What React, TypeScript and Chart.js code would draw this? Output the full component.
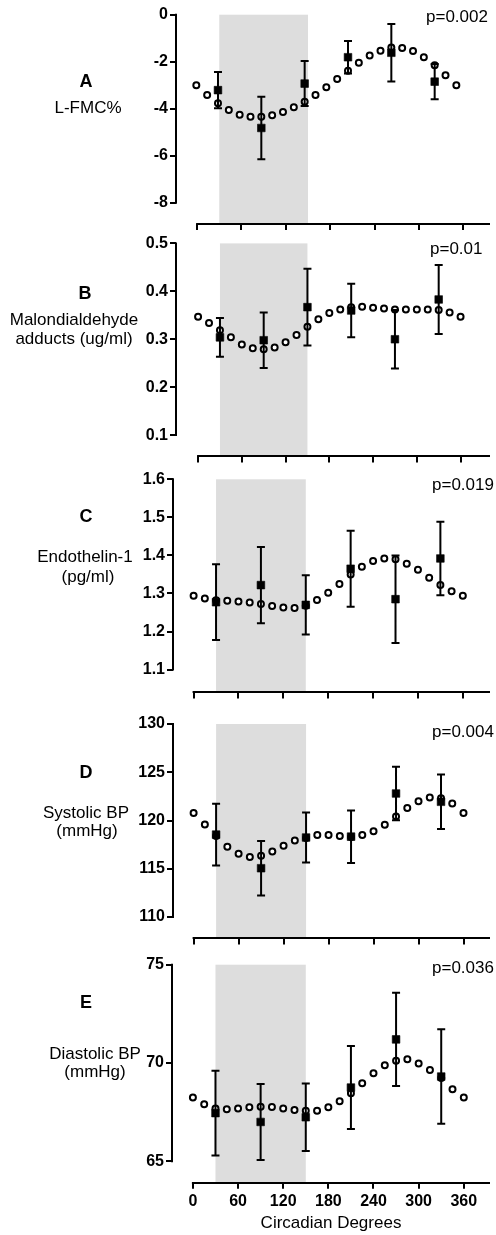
import React, { useEffect, useRef } from "react";
import { Chart, registerables } from "chart.js";

Chart.register(...registerables);

// ---------- data ----------
const degreesFit = [0, 15, 30, 45, 60, 75, 90, 105, 120, 135, 150, 165, 180, 195, 210, 225, 240, 255, 270, 285, 300, 315, 330, 345, 360];
const degreesObs = [30, 90, 150, 210, 270, 330];
const xTickValues = [0, 60, 120, 180, 240, 300, 360];
const shadeRange = [30, 150];

const fmcFit = [-3.0, -3.42, -3.77, -4.06, -4.26, -4.34, -4.34, -4.28, -4.14, -3.94, -3.7, -3.42, -3.09, -2.74, -2.38, -2.04, -1.74, -1.53, -1.4, -1.42, -1.54, -1.81, -2.15, -2.58, -3.0];
const fmcMean = [-3.21, -4.82, -2.93, -1.81, -1.62, -2.85];
const fmcSem = [0.77, 1.33, 0.96, 0.69, 1.22, 0.75];
const fmcTicks = [0, -2, -4, -6, -8];

const mdaFit = [0.347, 0.334, 0.319, 0.304, 0.289, 0.281, 0.279, 0.283, 0.294, 0.309, 0.326, 0.342, 0.355, 0.362, 0.367, 0.368, 0.366, 0.364, 0.362, 0.362, 0.362, 0.362, 0.361, 0.356, 0.347];
const mdaMean = [0.304, 0.298, 0.367, 0.36, 0.3, 0.383];
const mdaSem = [0.0405, 0.058, 0.08, 0.056, 0.061, 0.072];
const mdaTicks = [0.1, 0.2, 0.3, 0.4, 0.5];

const et1Fit = [1.294, 1.287, 1.282, 1.281, 1.279, 1.276, 1.272, 1.267, 1.263, 1.262, 1.268, 1.283, 1.302, 1.325, 1.35, 1.37, 1.385, 1.392, 1.39, 1.378, 1.362, 1.341, 1.322, 1.306, 1.294];
const et1Mean = [1.277, 1.322, 1.27, 1.365, 1.285, 1.392];
const et1Sem = [0.0995, 0.1, 0.078, 0.1, 0.115, 0.0965];
const et1Ticks = [1.1, 1.2, 1.3, 1.4, 1.5, 1.6];

const sbpFit = [120.79, 119.59, 118.4, 117.28, 116.56, 116.22, 116.36, 116.8, 117.38, 117.93, 118.2, 118.5, 118.5, 118.4, 118.3, 118.5, 118.9, 119.56, 120.41, 121.3, 122.0, 122.38, 122.32, 121.77, 120.79];
const sbpMean = [118.54, 115.06, 118.24, 118.33, 122.8, 121.94];
const sbpSem = [3.2, 2.83, 2.6, 2.72, 2.77, 2.83];
const sbpTicks = [110, 115, 120, 125, 130];

const dbpFit = [68.24, 67.9, 67.68, 67.65, 67.68, 67.75, 67.78, 67.76, 67.69, 67.61, 67.57, 67.57, 67.75, 68.05, 68.46, 68.97, 69.48, 69.88, 70.12, 70.19, 69.98, 69.64, 69.24, 68.66, 68.24];
const dbpMean = [67.45, 67.0, 67.24, 68.75, 71.2, 69.31];
const dbpSem = [2.16, 1.93, 1.72, 2.11, 2.37, 2.4];
const dbpTicks = [65, 70, 75];

const panelLetters = ["A", "B", "C", "D", "E"];
const panelLabels = [
  ["L-FMC%"],
  ["Malondialdehyde", "adducts (ug/ml)"],
  ["Endothelin-1", "(pg/ml)"],
  ["Systolic BP", "(mmHg)"],
  ["Diastolic BP", "(mmHg)"],
];
const pValues = ["p=0.002", "p=0.01", "p=0.019", "p=0.004", "p=0.036"];
const xAxisTitle = "Circadian Degrees";

// ---------- layout ----------
const W = 496;
const FONT = "'Liberation Sans', Arial, Helvetica, sans-serif";

type PanelGeom = {
  top: number; height: number; axisX: number; plotTop: number; xAxisY: number;
  yMin: number; yMax: number; data0: number; data360: number; axis0: number; axis360: number;
  letterPos: [number, number]; labelPos: [number, number][]; pPos: [number, number]; showX: boolean;
};

const geoms: PanelGeom[] = [
  { top: 0, height: 236, axisX: 176, plotTop: 14.7, xAxisY: 224, yMin: -8.906, yMax: 0, data0: 196.7, data360: 461.7, axis0: 197.5, axis360: 468.7,
    letterPos: [86, 81], labelPos: [[88, 108]], pPos: [426, 17], showX: false },
  { top: 228, height: 240, axisX: 176, plotTop: 243.4, xAxisY: 460.7, yMin: 0.0556, yMax: 0.5, data0: 198.5, data360: 466, axis0: 198.5, axis360: 466,
    letterPos: [85, 293], labelPos: [[74, 320], [74, 339]], pPos: [430, 249], showX: false },
  { top: 462, height: 242, axisX: 173, plotTop: 479.3, xAxisY: 697.7, yMin: 1.04, yMax: 1.6, data0: 194, data360: 468.3, axis0: 194, axis360: 468.3,
    letterPos: [86, 516], labelPos: [[85, 557], [88, 577]], pPos: [432, 485], showX: false },
  { top: 704, height: 246, axisX: 173, plotTop: 724, xAxisY: 941.7, yMin: 107.79, yMax: 130, data0: 194, data360: 469, axis0: 194, axis360: 469,
    letterPos: [86, 772], labelPos: [[86, 813], [87, 831]], pPos: [432, 732], showX: false },
  { top: 945, height: 290, axisX: 172, plotTop: 964.7, xAxisY: 1182.7, yMin: 63.91, yMax: 75, data0: 193.3, data360: 469.3, axis0: 193.3, axis360: 469.3,
    letterPos: [86, 1002], labelPos: [[95, 1054], [95, 1072]], pPos: [432, 968], showX: true },
];

const panelData = [
  { fit: fmcFit, mean: fmcMean, sem: fmcSem, yTicks: fmcTicks },
  { fit: mdaFit, mean: mdaMean, sem: mdaSem, yTicks: mdaTicks },
  { fit: et1Fit, mean: et1Mean, sem: et1Sem, yTicks: et1Ticks },
  { fit: sbpFit, mean: sbpMean, sem: sbpSem, yTicks: sbpTicks },
  { fit: dbpFit, mean: dbpMean, sem: dbpSem, yTicks: dbpTicks },
];

function Panel({ idx }: { idx: number }) {
  const ref = useRef<HTMLCanvasElement>(null);
  const g = geoms[idx];
  const d = panelData[idx];

  useEffect(() => {
    const canvas = ref.current!;
    const axisPpd = (g.axis360 - g.axis0) / 360;
    const dataPpd = (g.data360 - g.data0) / 360;
    const aMin = -(g.axis0 - g.axisX) / axisPpd;
    const aMax = (W - g.axis0) / axisPpd;
    const dMin = -(g.data0 - g.axisX) / dataPpd;
    const dMax = (W - g.data0) / dataPpd;
    const topPad = g.plotTop - g.top;
    const xH = g.height - (g.xAxisY - g.top);

    const deco = {
      id: "deco" + idx,
      beforeDatasetsDraw(chart: any) {
        const { ctx, chartArea, scales } = chart;
        const xa = scales.xa;
        const y = scales.y;
        ctx.save();
        ctx.fillStyle = "#dddddd";
        const x1 = xa.getPixelForValue(shadeRange[0]);
        const x2 = xa.getPixelForValue(shadeRange[1]);
        ctx.fillRect(x1, chartArea.top, x2 - x1, chartArea.bottom - chartArea.top);
        ctx.strokeStyle = "#000";
        ctx.lineWidth = 2;
        ctx.beginPath();
        const yb = Math.round(chartArea.bottom);
        ctx.moveTo(xa.getPixelForValue(xTickValues[0]) - 1, yb);
        ctx.lineTo(chartArea.right, yb);
        const tMax = Math.max(...d.yTicks);
        const tMin = Math.min(...d.yTicks);
        const xl = Math.round(chartArea.left);
        ctx.moveTo(xl, y.getPixelForValue(tMax) - 1);
        ctx.lineTo(xl, y.getPixelForValue(tMin) + 1);
        ctx.stroke();
        ctx.restore();
      },
      afterDatasetDraw(chart: any, args: any) {
        if (args.index !== 0) return;
        const { ctx, scales } = chart;
        const x = scales.x;
        const y = scales.y;
        ctx.save();
        ctx.strokeStyle = "#000";
        ctx.lineWidth = 2;
        ctx.beginPath();
        degreesObs.forEach((deg, i) => {
          const px = x.getPixelForValue(deg);
          const hi = y.getPixelForValue(d.mean[i] + d.sem[i]);
          const lo = y.getPixelForValue(d.mean[i] - d.sem[i]);
          ctx.moveTo(px, hi);
          ctx.lineTo(px, lo);
          ctx.moveTo(px - 4, hi);
          ctx.lineTo(px + 4, hi);
          ctx.moveTo(px - 4, lo);
          ctx.lineTo(px + 4, lo);
        });
        ctx.stroke();
        ctx.restore();
      },
    };

    const tickFont = { family: FONT, size: 16, weight: "bold" as const };

    const chart = new Chart(canvas, {
      type: "scatter",
      data: {
        datasets: [
          {
            data: degreesFit.map((x, i) => ({ x, y: d.fit[i] })),
            pointStyle: "circle",
            pointRadius: 3,
            pointBackgroundColor: "#fff",
            pointBorderColor: "#000",
            pointBorderWidth: 2,
            order: 2,
          },
          {
            data: degreesObs.map((x, i) => ({ x, y: d.mean[i] })),
            pointStyle: "rect",
            pointRadius: 5.4,
            pointBackgroundColor: "#000",
            pointBorderColor: "#000",
            pointBorderWidth: 0.6,
            order: 1,
          },
        ],
      },
      options: {
        responsive: false,
        animation: false,
        events: [],
        layout: { padding: { left: 0, right: 0, top: topPad, bottom: 0 } },
        plugins: { legend: { display: false }, tooltip: { enabled: false } },
        scales: {
          x: { type: "linear", display: false, min: dMin, max: dMax },
          xa: {
            type: "linear",
            position: "bottom",
            min: aMin,
            max: aMax,
            bounds: "data",
            afterBuildTicks: (s: any) => { s.ticks = xTickValues.map((v) => ({ value: v })); },
            afterFit: (s: any) => { s.height = xH; },
            grid: { drawOnChartArea: false, drawTicks: true, tickLength: 6, color: "#000", lineWidth: 2 },
            border: { display: false },
            ticks: { display: g.showX, font: tickFont, color: "#000", padding: 3, maxRotation: 0, autoSkip: false, callback: (v: any) => String(v) },
            title: { display: g.showX, text: xAxisTitle, color: "#000", font: { family: FONT, size: 17 }, padding: { top: 0, bottom: 1 } },
          },
          y: {
            type: "linear",
            position: "left",
            min: g.yMin,
            max: g.yMax,
            bounds: "data",
            afterBuildTicks: (s: any) => { s.ticks = d.yTicks.map((v) => ({ value: v })); },
            afterFit: (s: any) => { s.width = g.axisX; },
            grid: { drawOnChartArea: false, drawTicks: true, tickLength: 6, color: "#000", lineWidth: 2 },
            border: { display: false },
            ticks: { font: tickFont, color: "#000", padding: 2, autoSkip: false, callback: (v: any) => String(v) },
          },
        },
      } as any,
      plugins: [deco],
    });
    return () => chart.destroy();
  }, []);

  const txt = (extra: any): any => ({
    position: "absolute",
    whiteSpace: "nowrap",
    fontFamily: FONT,
    color: "#000",
    lineHeight: "normal",
    ...extra,
  });

  return (
    <>
      <canvas ref={ref} width={W} height={g.height} style={{ position: "absolute", left: 0, top: g.top, width: W, height: g.height }} />
      <div style={txt({ left: g.letterPos[0], top: g.letterPos[1], transform: "translate(-50%,-50%)", fontSize: 18, fontWeight: "bold" })}>{panelLetters[idx]}</div>
      {panelLabels[idx].map((line, i) => (
        <div key={i} style={txt({ left: g.labelPos[i][0], top: g.labelPos[i][1], transform: "translate(-50%,-50%)", fontSize: 17 })}>{line}</div>
      ))}
      <div style={txt({ left: g.pPos[0], top: g.pPos[1], transform: "translate(0,-50%)", fontSize: 17 })}>{pValues[idx]}</div>
    </>
  );
}

export default function App() {
  return (
    <div style={{ position: "absolute", left: 0, top: 0, width: W, height: 1235, background: "#fff", overflow: "hidden" }}>
      {geoms.map((_, i) => (
        <Panel key={i} idx={i} />
      ))}
    </div>
  );
}
